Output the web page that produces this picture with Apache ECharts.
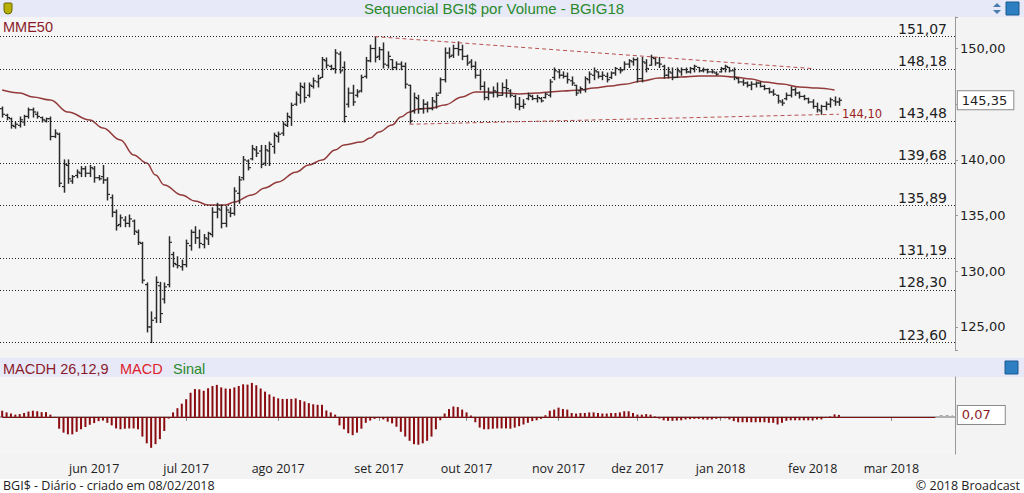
<!DOCTYPE html>
<html><head><meta charset="utf-8">
<script src="https://cdn.jsdelivr.net/npm/echarts@6/dist/echarts.min.js"></script>
<style>html,body{margin:0;padding:0;background:#f3f3f3;}#c{width:1024px;height:493px;}</style>
</head><body><div id="c"></div>
<script>
// ---- data (one entry per trading day, index = category) ----
const opens = [144.6,144.0,143.7,143.0,143.1,143.4,143.9,144.5,144.1,143.8,143.5,143.7,142.1,142.3,137.6,139.5,138.1,138.6,138.8,139.2,138.8,139.2,138.4,138.5,138.2,136.6,135.3,134.2,134.6,134.3,134.5,133.5,132.5,128.8,125.0,125.8,128.7,127.5,128.8,131.5,130.6,130.4,130.6,132.3,133.5,133.0,132.4,132.9,133.3,135.3,135.5,134.3,135.3,135.2,137.0,138.4,139.9,140.1,140.9,140.8,139.7,140.8,141.2,142.1,142.4,143.1,143.8,145.0,145.8,146.5,145.8,146.6,147.0,147.4,148.9,148.4,148.2,149.5,148.3,145.0,146.0,145.8,146.2,147.5,148.9,150.0,149.3,149.9,148.5,149.0,148.3,148.6,148.4,146.7,144.4,145.5,144.6,145.0,144.6,145.2,146.0,147.2,149.6,149.4,150.0,149.9,149.3,148.8,148.4,147.6,146.6,145.6,146.0,146.1,145.8,146.5,146.2,145.7,145.0,144.8,145.5,145.7,145.5,145.5,145.6,145.8,147.4,147.9,147.6,147.5,147.1,146.7,146.2,146.3,147.2,147.6,147.9,147.5,147.5,147.4,147.8,148.1,148.1,148.6,148.8,149.0,147.3,148.7,148.5,149.1,148.7,148.4,147.6,147.8,147.4,147.9,148.1,147.9,148.2,148.3,148.0,148.1,147.9,147.8,147.9,148.2,148.3,148.0,147.3,147.0,146.9,146.7,146.8,146.9,146.6,146.4,146.1,145.8,145.2,145.5,145.8,146.3,146.0,145.7,145.5,145.2,144.8,144.4,144.8,145.0,145.3,145.2];
const highs = [144.75,144.1,143.75,143.4,143.85,144.0,144.65,144.65,144.3,143.85,143.75,143.85,142.7,142.4,140.0,140.0,138.6,139.1,139.4,139.4,139.5,139.4,138.6,139.5,138.4,136.85,135.5,135.05,134.9,135.05,134.6,133.7,132.6,128.95,126.35,129.5,129.0,128.95,133.1,131.7,131.3,131.0,132.8,133.7,134.0,133.7,133.3,133.5,135.7,136.1,135.95,135.8,135.7,137.5,138.5,140.3,140.0,141.3,141.2,141.3,141.3,141.6,142.4,142.5,143.4,144.2,145.1,146.1,146.9,146.9,146.9,147.35,147.6,149.2,149.15,148.5,149.9,149.7,148.8,146.45,146.7,146.3,147.6,149.2,150.3,151.07,150.1,150.5,149.7,149.0,148.8,148.8,148.7,146.7,146.0,145.8,145.4,145.2,145.6,146.0,147.35,150.05,150.05,150.3,150.6,150.3,149.4,149.0,148.8,148.1,147.0,146.45,146.55,146.9,146.9,147.2,146.3,145.8,145.6,145.4,146.0,145.8,145.8,145.6,146.0,147.2,148.25,148.1,147.9,147.8,147.45,146.7,146.55,147.45,147.9,148.25,147.9,147.9,147.8,147.9,148.3,148.3,148.8,149.0,149.15,149.15,149.2,149.0,149.4,149.2,149.2,148.5,148.3,148.25,148.25,148.25,148.25,148.3,148.5,148.3,148.25,148.15,148.1,147.9,148.3,148.5,148.3,148.25,147.35,147.2,147.0,147.0,147.0,147.0,146.7,146.45,146.3,145.8,145.4,146.0,146.55,146.45,146.1,145.8,145.55,145.4,145.1,144.9,145.2,145.55,145.65,145.55];
const lows = [143.85,143.6,142.85,142.85,142.95,143.1,143.75,143.85,143.75,143.4,143.4,141.8,142.0,137.6,137.1,137.9,137.9,138.4,138.5,138.5,138.5,138.0,138.2,137.9,136.4,134.9,133.7,134.0,134.0,134.0,133.3,132.4,128.95,124.55,123.6,125.4,125.4,127.15,128.6,130.4,130.3,130.1,130.4,131.9,132.5,132.1,132.1,132.4,133.1,134.8,133.9,134.0,134.9,135.05,136.1,138.2,139.1,140.0,140.3,139.3,139.5,139.5,140.6,141.6,142.2,143.0,143.1,144.9,145.1,145.2,145.65,146.45,146.55,147.4,148.25,148.1,147.8,147.8,143.4,144.75,144.9,145.65,146.1,147.35,148.8,148.8,149.0,148.25,148.25,148.1,148.1,148.1,146.45,143.3,144.2,144.2,144.2,144.3,144.5,144.65,146.0,147.0,149.15,149.2,149.4,149.0,148.5,148.25,147.35,146.3,145.4,145.4,145.65,145.65,145.8,145.65,145.65,144.65,144.5,144.65,145.4,145.4,145.2,145.2,145.55,145.65,147.2,147.35,147.35,146.9,146.7,145.8,146.0,146.1,146.9,147.2,147.35,147.2,147.0,147.3,147.6,147.8,148.1,148.3,148.5,147.0,147.0,147.9,148.5,148.5,148.3,147.35,147.35,147.2,147.4,147.6,147.8,147.8,147.9,147.9,147.9,147.8,147.8,147.6,147.9,147.9,147.9,147.2,146.9,146.7,146.55,146.3,146.55,146.55,146.3,146.0,145.8,145.1,144.9,145.4,145.65,145.8,145.55,145.4,145.1,144.65,144.3,144.1,144.5,144.75,144.9,144.9];
const closes = [144.1,143.8,143.1,143.2,143.6,143.9,144.5,144.3,143.9,143.6,143.7,142.1,142.4,137.9,139.6,138.3,138.5,138.9,139.2,138.8,139.3,138.4,138.3,138.2,136.9,135.3,134.1,134.8,134.3,134.7,133.6,132.6,129.2,125.0,125.6,129.0,126.2,128.6,132.6,130.7,130.5,130.6,132.5,133.5,133.0,132.5,133.0,133.4,135.3,135.6,134.3,135.5,135.2,137.2,138.2,140.0,139.3,141.0,140.6,139.6,140.9,141.4,142.2,142.3,143.2,143.9,144.9,145.9,146.6,145.6,146.7,147.1,147.3,149.0,148.5,148.2,149.6,148.0,143.9,146.0,145.2,146.1,147.4,148.9,150.0,149.2,149.9,148.6,149.3,148.3,148.6,148.4,146.8,143.5,145.6,144.6,145.0,144.6,145.3,145.8,147.2,149.6,149.3,150.0,149.9,149.3,148.7,148.4,147.6,146.6,145.6,146.0,146.2,145.8,146.5,146.4,145.8,145.0,144.8,145.0,145.8,145.5,145.6,145.3,145.9,147.0,148.0,147.6,147.5,147.2,146.9,146.0,146.4,147.3,147.7,148.0,147.5,147.6,147.2,147.8,148.2,148.0,148.6,148.9,149.0,147.3,148.8,148.2,149.2,148.7,148.6,147.6,147.9,147.4,148.0,148.1,147.9,148.2,148.4,148.0,148.1,147.9,147.9,147.7,148.2,148.4,148.0,147.4,147.0,146.9,146.7,146.8,146.9,146.6,146.4,146.1,145.9,145.3,145.1,145.8,146.3,146.0,145.7,145.5,145.2,144.8,144.5,144.8,145.0,145.4,145.2,145.35];

const mme50Idx = [0,4,7,11,15,20,23,27,30,33,35,37,41,44,47,51,53,57,60,63,67,70,73,76,78,82,84,86,89,91,93,95,98,101,105,108,111,115,118,122,125,128,132,135,139,142,146,150,155,159,164,167,171,174,178,182,186,190];
const mme50Val = [146.27,146.0,145.65,145.38,144.3,143.58,142.86,141.79,140.44,139.72,138.64,137.75,136.85,136.31,135.95,135.95,136.22,136.85,137.48,138.02,138.9,139.54,139.99,140.89,141.34,141.6,141.96,142.5,143.13,143.85,144.3,144.57,144.66,144.93,145.65,146.1,146.1,146.0,145.92,146.0,146.1,146.18,146.27,146.45,146.63,146.8,147.08,147.35,147.44,147.53,147.53,147.44,147.26,146.99,146.81,146.54,146.45,146.27];

const macdHist = [0.22,0.16,0.12,0.08,0.10,0.14,0.19,0.22,0.20,0.17,0.17,0.08,-0.02,
-0.42,-0.56,-0.62,-0.62,-0.53,-0.44,-0.36,-0.28,-0.22,-0.15,-0.13,-0.21,-0.30,-0.41,-0.44,-0.42,-0.41,-0.41,-0.44,-0.70,-0.94,-1.10,-0.97,-0.79,-0.50,-0.06,
0.16,0.31,0.47,0.63,0.86,0.99,0.98,0.93,1.02,1.10,1.14,1.05,1.01,1.00,1.05,1.10,1.16,1.15,1.21,1.13,1.01,0.90,0.80,0.72,0.66,0.64,
0.64,0.64,0.66,0.60,0.55,0.49,0.45,0.43,0.43,0.23,0.16,0.08,
-0.30,-0.44,-0.58,-0.65,-0.56,-0.42,-0.21,-0.13,-0.07,-0.03,-0.09,-0.17,-0.23,-0.35,-0.53,-0.70,-0.85,-0.97,-0.99,-0.94,-0.85,-0.70,-0.44,-0.12,
0.12,0.28,0.37,0.35,0.26,0.16,0.05,-0.19,
-0.38,
-0.44,-0.44,-0.42,-0.41,-0.41,-0.41,-0.42,-0.38,-0.33,
-0.27,-0.21,-0.15,-0.12,-0.07,0.06,0.22,0.26,0.33,0.28,0.26,0.14,0.12,0.14,0.14,0.16,0.16,0.14,0.12,0.12,0.14,0.14,0.16,0.20,0.20,0.14,0.08,0.08,0.10,0.08,0.02,-0.06,-0.12,-0.14,-0.14,-0.13,-0.12,-0.09,-0.08,-0.07,-0.07,-0.09,-0.10,-0.09,-0.07,-0.05,-0.05,-0.09,-0.15,-0.19,-0.19,-0.19,-0.19,-0.19,-0.19,-0.19,-0.21,-0.21,-0.27,-0.21,-0.14,-0.12,-0.12,-0.12,-0.12,-0.12,-0.12,-0.09,-0.09,-0.03,0.02,0.09,0.07];

const levelValues = [151.07,148.18,143.48,139.68,135.89,131.19,128.30,123.60];
const levelLabels = ['151,07','148,18','143,48','139,68','135,89','131,19','128,30','123,60'];
const axisTickLabels = ['125,00','130,00','135,00','140,00','150,00'];
const upperTrend = [[85,151.07],[185,148.2]];
const lowerTrend = [[93,143.2],[191,144.1]];
const lowerTrendLabel = '144,10';
const lastPrice = 145.35, lastPriceLabel = '145,35';
const lastMacd = 0.07, lastMacdLabel = '0,07';
const monthIdx = [21,42,63,86,106,127,145,164,185,203];
const monthLabels = ['jun 2017','jul 2017','ago 2017','set 2017','out 2017','nov 2017','dez 2017','jan 2018','fev 2018','mar 2018'];
const nCats = 218;

// ---- build ----
const categories = Array.from({length: nCats}, (_, i) => String(i));
const ohlcRows = opens.map((o, i) => [i, o, highs[i], lows[i], closes[i]]);
const mmeData = mme50Idx.map((ix, k) => [ix, mme50Val[k]]);
const fmt2 = v => v.toFixed(2).replace('.', ',');

const chart = echarts.init(document.getElementById('c'), null, {renderer: 'svg'});
const axisFont = 'DejaVu Sans';

const levelLines = levelValues.map((v, k) => ({
  yAxis: v,
  lineStyle: {type: [1, 2], color: '#222', width: 1},
  label: {show: true, position: 'insideEndTop', formatter: levelLabels[k], color: '#222',
          fontSize: 14, fontFamily: axisFont, distance: [8, 1]}
}));

chart.setOption({
  animation: false,
  backgroundColor: '#f3f3f3',
  graphic: [
    {type: 'rect', shape: {x: 0, y: 0, width: 1024, height: 17}, style: {fill: '#e7e9f8'}, z: 0, silent: true},
    {type: 'rect', shape: {x: 0, y: 358, width: 1024, height: 19}, style: {fill: '#e7e9f8'}, z: 0, silent: true},
    {type: 'rect', shape: {x: 0, y: 479, width: 1024, height: 14}, style: {fill: '#ffffff'}, z: 0, silent: true},
    {type: 'rect', shape: {x: 4, y: 3, width: 8, height: 11, r: [1, 1, 4, 4]}, style: {fill: '#b7b000', stroke: '#6b6600'}, z: 1, silent: true},
    {type: 'rect', shape: {x: 1006, y: 2, width: 13, height: 13}, style: {fill: '#2d7fc1', stroke: '#1a5a90'}, z: 1, silent: true},
    {type: 'polygon', shape: {points: [[993, 7], [997, 3], [1001, 7]]}, style: {fill: '#4a7cb0'}, z: 1, silent: true},
    {type: 'polygon', shape: {points: [[993, 10], [997, 14], [1001, 10]]}, style: {fill: '#4a7cb0'}, z: 1, silent: true},
    {type: 'rect', shape: {x: 1005, y: 361, width: 13, height: 13}, style: {fill: '#2d7fc1', stroke: '#1a5a90'}, z: 1, silent: true}
  ],
  title: [
    {text: 'Sequencial BGI$ por Volume - BGIG18', left: 364, top: 1, padding: 0,
     textStyle: {color: '#2a8a2a', fontSize: 15, fontWeight: 'normal', fontFamily: 'Liberation Sans'}},
    {text: 'MME50', left: 3, top: 19, padding: 0,
     textStyle: {color: '#8b1a2a', fontSize: 14.5, fontWeight: 'normal', fontFamily: 'Liberation Sans'}},
    {text: 'MACDH 26,12,9', left: 3, top: 361, padding: 0,
     textStyle: {color: '#8b1a2a', fontSize: 14.5, fontWeight: 'normal', fontFamily: 'Liberation Sans'}},
    {text: 'MACD', left: 120, top: 361, padding: 0,
     textStyle: {color: '#e0202a', fontSize: 14.5, fontWeight: 'normal', fontFamily: 'Liberation Sans'}},
    {text: 'Sinal', left: 173, top: 361, padding: 0,
     textStyle: {color: '#2a8a2a', fontSize: 14.5, fontWeight: 'normal', fontFamily: 'Liberation Sans'}},
    {text: 'BGI$ - Diário - criado em 08/02/2018', left: 3, top: 479, padding: 0,
     textStyle: {color: '#222', fontSize: 12.5, fontWeight: 'normal', fontFamily: 'Open Sans'}},
    {text: '© 2018 Broadcast', right: 4, top: 479, padding: 0,
     textStyle: {color: '#222', fontSize: 12.5, fontWeight: 'normal', fontFamily: 'Open Sans'}}
  ],
  grid: [
    {left: 0, top: 17, width: 955, height: 333, show: true, backgroundColor: '#f5f5f5', borderWidth: 0},
    {left: 0, top: 377, width: 955, height: 77, show: true, backgroundColor: '#f5f5f5', borderWidth: 0}
  ],
  xAxis: [
    {type: 'category', gridIndex: 0, data: categories, boundaryGap: true,
     axisLine: {show: false}, axisTick: {show: false}, axisLabel: {show: false}, splitLine: {show: false}},
    {type: 'category', gridIndex: 1, data: categories, boundaryGap: true,
     axisLine: {show: true, lineStyle: {color: '#999', width: 1.5}},
     axisTick: {show: true, alignWithLabel: true, length: 4, interval: idx => monthIdx.includes(idx), lineStyle: {color: '#888'}},
     axisLabel: {show: true, interval: idx => monthIdx.includes(idx), margin: 8,
                 formatter: (v, idx) => monthLabels[monthIdx.indexOf(idx)] || '',
                 color: '#222', fontSize: 12.5, fontFamily: 'Open Sans'},
     splitLine: {show: false}}
  ],
  yAxis: [
    {type: 'value', gridIndex: 0, position: 'right', min: 122.93, max: 152.83, splitNumber: 6, scale: true,
     axisLine: {show: true, lineStyle: {color: '#999'}},
     axisTick: {show: true, length: 3, lineStyle: {color: '#999'}},
     axisLabel: {show: true, margin: 5, color: '#222', fontSize: 13, fontFamily: axisFont,
                 formatter: v => { const s = fmt2(v); return axisTickLabels.includes(s) ? s : ''; }},
     splitLine: {show: false}},
    {type: 'value', gridIndex: 1, position: 'right', min: -1.32, max: 1.42,
     axisLine: {show: true, lineStyle: {color: '#999'}}, axisTick: {show: false},
     axisLabel: {show: false}, splitLine: {show: false}}
  ],
  series: [
    {
      type: 'custom', name: 'BGI$', xAxisIndex: 0, yAxisIndex: 0,
      data: ohlcRows, encode: {x: 0, y: [1, 2, 3, 4]}, z: 3,
      renderItem: function (params, api) {
        const i = api.value(0);
        const o = api.coord([i, api.value(1)]);
        const h = api.coord([i, api.value(2)]);
        const l = api.coord([i, api.value(3)]);
        const c = api.coord([i, api.value(4)]);
        const x = Math.round(o[0]) + 0.5;
        const st = {stroke: '#2a2a2a', lineWidth: 1.5};
        return {type: 'group', children: [
          {type: 'line', shape: {x1: x, y1: h[1] - 0.5, x2: x, y2: l[1] + 0.5}, style: st},
          {type: 'line', shape: {x1: x - 2.5, y1: o[1], x2: x, y2: o[1]}, style: {stroke: '#2a2a2a', lineWidth: 1.2}},
          {type: 'line', shape: {x1: x, y1: c[1], x2: x + 2.5, y2: c[1]}, style: {stroke: '#2a2a2a', lineWidth: 1.2}}
        ]};
      },
      markLine: {
        silent: true, symbol: ['none', 'none'], animation: false,
        data: levelLines.concat([
          [{coord: upperTrend[0], lineStyle: {type: [4, 3], color: '#b85050', width: 1}, label: {show: false}},
           {coord: upperTrend[1]}],
          [{coord: lowerTrend[0], lineStyle: {type: [4, 3], color: '#b85050', width: 1},
            label: {show: true, position: 'end', formatter: lowerTrendLabel, color: '#9b1c1c', fontSize: 11.5, fontFamily: axisFont, distance: 3}},
           {coord: lowerTrend[1]}],
          [{coord: [216, lastPrice], lineStyle: {color: 'rgba(0,0,0,0)', width: 1, type: 'solid'},
            label: {show: true, position: 'end', formatter: lastPriceLabel, color: '#222', fontSize: 13, fontFamily: axisFont,
                    backgroundColor: '#ffffff', borderColor: '#8a8a8a', borderWidth: 1, padding: [3, 6, 2, 4], distance: 5}},
           {coord: [217, lastPrice]}]
        ])
      }
    },
    {
      type: 'line', name: 'MME50', xAxisIndex: 0, yAxisIndex: 0, data: mmeData,
      showSymbol: false, smooth: 0.4, smoothMonotone: 'x', connectNulls: true, z: 2,
      lineStyle: {color: '#933a3a', width: 1.5}
    },
    {
      type: 'bar', name: 'MACDH', xAxisIndex: 1, yAxisIndex: 1, data: macdHist,
      barWidth: 2, itemStyle: {color: '#8a0c10'}, z: 2,
      markLine: {
        silent: true, symbol: ['none', 'none'], animation: false,
        data: [
          [{coord: [0, 0], lineStyle: {color: '#7a1010', width: 1, type: 'solid'}, label: {show: false}}, {coord: [213, 0]}],
          [{coord: [214, lastMacd], lineStyle: {color: '#aaaaaa', width: 1, type: [3, 3]},
            label: {show: true, position: 'end', formatter: lastMacdLabel, color: '#8b1a2a', fontSize: 13, fontFamily: axisFont,
                    backgroundColor: '#ffffff', borderColor: '#8a8a8a', borderWidth: 1, padding: [3, 14, 2, 4], distance: 5}},
           {coord: [217, lastMacd]}]
        ]
      }
    }
  ]
});
</script>
</body></html>
